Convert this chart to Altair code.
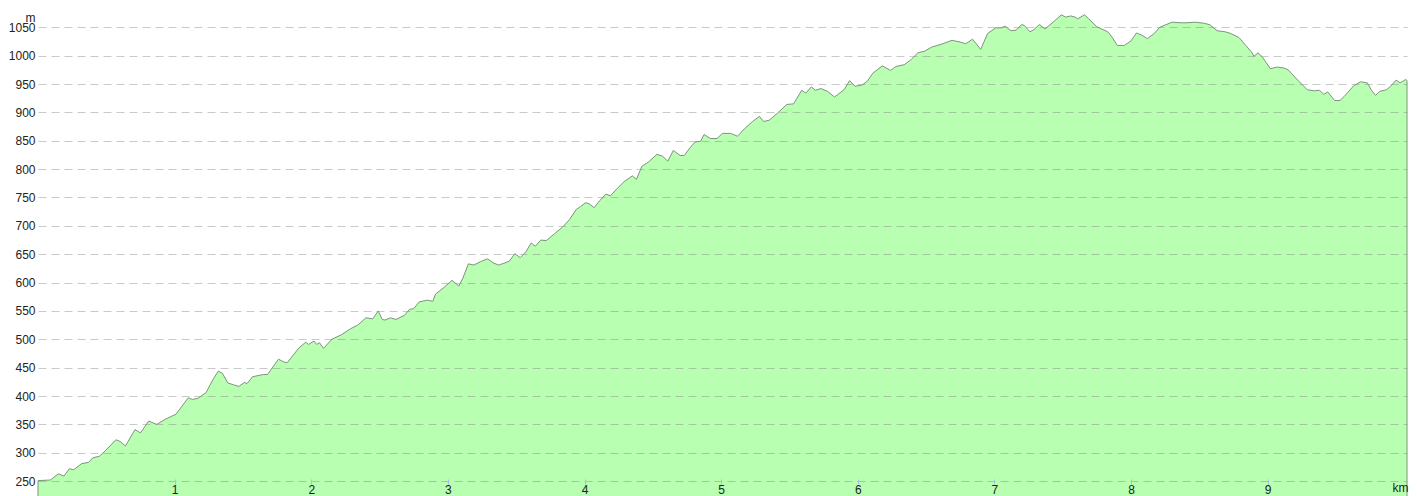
import altair as alt
import pandas as pd

km = [0.00, 0.09, 0.15, 0.19, 0.23, 0.26, 0.32, 0.37, 0.40, 0.45, 0.49, 0.57, 0.60, 0.64,
      0.71, 0.75, 0.81, 0.87, 0.93, 1.01, 1.10, 1.13, 1.17, 1.23, 1.28, 1.32, 1.35, 1.39,
      1.43, 1.47, 1.51, 1.53, 1.57, 1.63, 1.65, 1.68, 1.76, 1.80, 1.825, 1.91, 1.96, 1.98,
      2.02, 2.04, 2.06, 2.09, 2.15, 2.22, 2.29, 2.34, 2.40, 2.45, 2.49, 2.52, 2.54, 2.58,
      2.62, 2.68, 2.72, 2.75, 2.79, 2.85, 2.89, 2.91, 2.97, 3.03, 3.08, 3.11, 3.15, 3.19,
      3.24, 3.29, 3.33, 3.37, 3.41, 3.45, 3.49, 3.53, 3.57, 3.61, 3.64, 3.68, 3.72, 3.78,
      3.84, 3.89, 3.94, 3.97, 4.01, 4.04, 4.07, 4.11, 4.155, 4.19, 4.24, 4.29, 4.35, 4.38,
      4.42, 4.47, 4.53, 4.57, 4.61, 4.65, 4.70, 4.73, 4.77, 4.81, 4.85, 4.875, 4.92, 4.97,
      5.01, 5.07, 5.12, 5.17, 5.23, 5.28, 5.31, 5.35, 5.41, 5.48, 5.53, 5.59, 5.62, 5.66,
      5.69, 5.73, 5.78, 5.83, 5.90, 5.94, 5.98, 6.03, 6.07, 6.11, 6.18, 6.24, 6.28, 6.34,
      6.39, 6.44, 6.49, 6.54, 6.61, 6.69, 6.75, 6.79, 6.84, 6.90, 6.95, 7.01, 7.05, 7.08,
      7.12, 7.16, 7.20, 7.22, 7.26, 7.29, 7.33, 7.37, 7.43, 7.49, 7.52, 7.56, 7.59, 7.61,
      7.66, 7.69, 7.75, 7.83, 7.86, 7.90, 7.95, 8.00, 8.04, 8.08, 8.12, 8.17, 8.21, 8.25,
      8.30, 8.36, 8.41, 8.47, 8.54, 8.58, 8.63, 8.69, 8.73, 8.79, 8.84, 8.88, 8.90, 8.93,
      8.96, 9.02, 9.07, 9.12, 9.15, 9.22, 9.29, 9.34, 9.38, 9.41, 9.44, 9.49, 9.53, 9.56,
      9.63, 9.68, 9.73, 9.76, 9.79, 9.82, 9.87, 9.90, 9.94, 9.97, 10.01, 10.02]

elev = [251, 252, 263, 259, 272, 270, 281, 283, 291, 294, 303, 323, 320, 312,
        341, 335, 356, 350, 359, 368, 397, 394, 396, 406, 429, 444, 440, 423,
        420, 417, 424, 422, 434, 437, 438, 438, 465, 460, 459, 485, 495, 491,
        497, 491, 494, 484, 500, 508, 519, 525, 538, 536, 550, 535, 534, 538,
        535, 542, 553, 554, 566, 569, 567, 580, 591, 604, 594, 608, 633, 631,
        637, 642, 635, 631, 634, 638, 651, 644, 654, 670, 664, 675, 674, 686,
        698, 711, 729, 734, 741, 738, 732, 744, 756, 753, 766, 778, 788, 782,
        805, 813, 826, 823, 814, 833, 824, 824, 837, 848, 849, 861, 854, 854,
        863, 863, 858, 871, 884, 893, 884, 886, 898, 914, 915, 939, 934, 945,
        939, 942, 937, 927, 940, 956, 946, 948, 955, 969, 982, 974, 981, 984,
        993, 1005, 1008, 1015, 1020, 1027, 1024, 1021, 1029, 1011, 1039, 1049, 1049, 1052,
        1044, 1045, 1055, 1053, 1042, 1046, 1055, 1047, 1059, 1072, 1068, 1070, 1068, 1065,
        1072, 1065, 1051, 1042, 1033, 1018, 1018, 1026, 1040, 1036, 1030, 1039, 1050, 1054,
        1059, 1058, 1058, 1059, 1057, 1054, 1044, 1042, 1039, 1032, 1018, 1007, 999, 1005,
        998, 977, 980, 978, 975, 957, 940, 938, 939, 932, 936, 921, 921, 928,
        947, 954, 952, 939, 930, 937, 940, 946, 957, 952, 958, 956]

tick_km = [1, 2, 3, 4, 5, 6, 7, 8, 9]
y_ticks = list(range(250, 1051, 50))

df = pd.DataFrame({"km": km, "elev": elev})

FONT = "Liberation Sans"

x_scale = alt.Scale(domain=[0, 10.02], nice=False, zero=False)
y_scale = alt.Scale(domain=[245, 1084], nice=False, zero=False)

area = alt.Chart(df).mark_area(
    color="#b9ffb1", stroke="#7d947d", strokeWidth=1, interpolate="linear"
).encode(
    x=alt.X("km:Q", scale=x_scale,
            axis=alt.Axis(values=tick_km, grid=False, domain=False, tickSize=5,
                          tickColor="#9fc3e0", tickWidth=1, offset=-5, format="d",
                          labelPadding=0, labelFontSize=12, labelColor="#222",
                          labelFont=FONT, labelBaseline="top", labelFlush=False,
                          title="km", titleFont=FONT, titleFontSize=12,
                          titleFontWeight="normal", titleColor="#222",
                          titleAnchor="end", titleAlign="right", titleBaseline="alphabetic",
                          titleX=1370, titleY=12, zindex=1)),
    y=alt.Y("elev:Q", scale=y_scale,
            axis=alt.Axis(values=y_ticks, grid=True, gridColor="#888", format="d",
                          gridOpacity=0.45, gridDash=[8, 5], gridWidth=1,
                          domain=False, ticks=False, labelPadding=3,
                          labelFontSize=12, labelColor="#222", labelFont=FONT,
                          labelFlush=False,
                          title="m", titleFont=FONT, titleFontSize=12,
                          titleFontWeight="normal", titleColor="#222",
                          titleAngle=0, titleAlign="right", titleBaseline="alphabetic",
                          titleX=-3, titleY=13, zindex=1, minExtent=30, maxExtent=30)),
)

chart = area.properties(
    width=1369, height=476,
    background="white",
    autosize=alt.AutoSizeParams(type="none"),
    padding={"left": 30, "top": 0, "right": 2, "bottom": 12},
).configure_view(strokeWidth=0, stroke="transparent")

chart.save("out.html", embed_options={"renderer": "svg", "actions": False})
